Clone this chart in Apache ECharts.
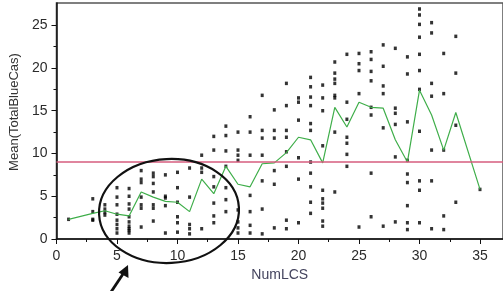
<!DOCTYPE html>
<html>
<head>
<meta charset="utf-8">
<script src="https://cdn.jsdelivr.net/npm/echarts@6/dist/echarts.min.js"></script>
<style>
  html, body { margin: 0; padding: 0; background: #fff; }
  #chart { width: 503px; height: 291px; }
</style>
</head>
<body>
<div id="chart"></div>
<script>
// NumLCS values that have observations
const numLCS = [1, 3, 4, 5, 6, 7, 8, 9, 10, 11, 12, 13, 14, 15, 16, 17, 18,
  19, 20, 21, 22, 23, 24, 25, 26, 27, 28, 29, 30, 31, 32, 33, 35]

// TotalBlueCas observations, one list per NumLCS value above
const blueCas = [
  [2.3],
  [4.7, 3.2, 2.3, 2.2],
  [4.0, 3.5, 3.1, 2.8],
  [6.0, 4.9, 4.0, 2.9, 2.2, 1.7, 1.2, 0.7],
  [5.9, 5.0, 4.1, 3.5, 2.6, 2.0, 1.5, 1.2, 1.0, 0.7],
  [8.0, 7.0, 6.6, 4.9, 4.0, 3.6, 1.4],
  [7.7, 7.3, 6.5, 5.5, 4.0, 3.6, 2.1],
  [7.5, 5.0, 4.8, 3.9, 0.7],
  [7.8, 6.0, 4.3, 2.6, 1.9, 0.8],
  [8.3, 4.9, 1.7, 1.2, 0.6],
  [9.8, 8.3, 7.8, 1.2],
  [12.0, 10.4, 7.3, 6.1, 4.2, 2.7, 1.9],
  [13.2, 12.1, 10.3, 8.5, 6.0, 4.6, 3.2],
  [12.5, 10.4, 9.8, 9.2, 3.4, 2.0, 1.3, 0.7],
  [14.3, 12.5, 9.8, 5.1, 3.2, 1.6, 0.7],
  [16.8, 12.7, 11.8, 9.8, 6.8, 3.5, 0.6],
  [15.1, 12.7, 11.8, 8.0, 6.4, 1.3],
  [18.2, 15.6, 12.7, 11.9, 10.2, 8.5, 2.2, 1.2],
  [16.5, 16.0, 13.9, 9.5, 7.0, 1.9],
  [18.9, 17.8, 16.6, 15.6, 13.5, 12.7, 9.0, 7.7, 6.1, 4.3, 3.0],
  [18.0, 16.5, 15.0, 10.9, 5.7, 4.7, 4.2, 3.6, 2.1, 1.5],
  [20.7, 19.4, 18.7, 18.2, 16.8, 16.5, 12.5, 5.5],
  [21.6, 16.0, 14.0, 11.9, 11.2, 9.9, 8.5],
  [21.7, 20.5, 19.7, 17.0, 1.4],
  [21.9, 21.0, 19.6, 18.5, 15.4, 14.5, 7.7, 2.6],
  [22.7, 20.2, 17.9, 17.0, 13.0, 1.5],
  [22.3, 15.3, 14.7, 13.4, 9.6, 2.0],
  [21.3, 19.3, 13.7, 9.2, 7.6, 6.6, 3.9, 1.9, 1.1],
  [26.9, 26.2, 25.1, 23.6, 21.6, 19.7, 17.5, 12.6, 6.8, 5.7, 1.9],
  [25.3, 24.1, 18.2, 16.7, 10.4, 6.8, 1.2],
  [21.7, 17.0, 10.4, 2.7, 1.1],
  [23.7, 19.4, 13.3, 4.3],
  [5.8]
]

// mean line (green)
const meanY = [2.3, 3.0, 3.3, 2.9, 2.7, 5.5, 4.9, 4.4, 4.3, 3.2, 7.0, 5.3, 8.5,
  6.4, 6.1, 8.8, 8.9, 10.1, 11.9, 11.6, 8.9, 15.4, 13.1, 16.0, 15.4, 15.3, 11.6,
  9.0, 17.4, 14.5, 10.4, 14.8, 5.8]

const refLevel = 9
const xTicks = [0, 5, 10, 15, 20, 25, 30, 35]
const xMinor = [2.5, 7.5, 12.5, 17.5, 22.5, 27.5, 32.5]
const yTicks = [0, 5, 10, 15, 20, 25]
const yMinor = [2.5, 7.5, 12.5, 17.5, 22.5]

const points = []
numLCS.forEach(function(x, i) {
  blueCas[i].forEach(function(v) { points.push([x, v]) })
})
const meanPts = numLCS.map(function(x, i) { return [x, meanY[i]] })

const chart = echarts.init(document.getElementById('chart'), null, { renderer: 'canvas' })

const labelFont = { fontFamily: 'Liberation Sans, Arial, sans-serif', fontSize: 14, color: '#2b2b2b' }

chart.setOption({
  animation: false,
  backgroundColor: '#fff',
  grid: {
    left: 56,
    right: 0,
    top: 3,
    bottom: 52,
    show: true,
    borderColor: '#555',
    borderWidth: 1.5
  },
  xAxis: [{
    type: 'value',
    min: 0,
    max: 36.9,
    name: 'NumLCS',
    nameLocation: 'middle',
    nameGap: 29,
    nameTextStyle: { fontFamily: 'Liberation Sans, Arial, sans-serif', fontSize: 14, color: '#44445e' },
    axisLine: { lineStyle: { color: '#111', width: 1.5 } },
    axisTick: { customValues: xTicks, length: 5, lineStyle: { color: '#111' } },
    axisLabel: Object.assign({ customValues: xTicks, margin: 10 }, labelFont),
    splitLine: { show: false }
  }, {
    type: 'value',
    min: 0,
    max: 36.9,
    position: 'bottom',
    axisLine: { show: false },
    axisTick: { customValues: xMinor, length: 3, lineStyle: { color: '#111' } },
    axisLabel: { show: false },
    splitLine: { show: false }
  }],
  yAxis: [{
    type: 'value',
    min: 0,
    max: 27.6,
    name: 'Mean(TotalBlueCas)',
    nameLocation: 'middle',
    nameGap: 34,
    nameTextStyle: {
      fontFamily: 'Liberation Sans, Arial, sans-serif',
      fontSize: 13,
      color: '#333',
      padding: [0, 0, 0, 18]
    },
    axisLine: { lineStyle: { color: '#111', width: 1.5 } },
    axisTick: { customValues: yTicks, length: 5, lineStyle: { color: '#111' } },
    axisLabel: Object.assign({ customValues: yTicks, margin: 9 }, labelFont),
    splitLine: { show: false }
  }, {
    type: 'value',
    min: 0,
    max: 27.6,
    position: 'left',
    axisLine: { show: false },
    axisTick: { customValues: yMinor, length: 3, lineStyle: { color: '#111' } },
    axisLabel: { show: false },
    splitLine: { show: false }
  }],
  series: [{
    name: 'obs',
    type: 'scatter',
    symbol: 'rect',
    symbolSize: [3, 3.5],
    itemStyle: { color: '#000' },
    data: points,
    z: 3
  }, {
    name: 'mean',
    type: 'line',
    symbol: 'none',
    lineStyle: { color: '#3fae4a', width: 1.2 },
    data: meanPts,
    z: 4,
    markLine: {
      silent: true,
      symbol: 'none',
      label: { show: false },
      lineStyle: { color: '#d65c7e', width: 1.5, type: 'solid' },
      data: [{ yAxis: refLevel }]
    }
  }],
  graphic: [{
    type: 'ellipse',
    shape: { cx: 169, cy: 211, rx: 70, ry: 52 },
    originX: 169,
    originY: 211,
    rotation: 0.05,
    style: { fill: 'none', stroke: '#111', lineWidth: 2.2 },
    z: 10
  }, {
    type: 'line',
    shape: { x1: 111, y1: 292, x2: 123, y2: 274 },
    style: { stroke: '#111', lineWidth: 2.8 },
    z: 10
  }, {
    type: 'polygon',
    shape: { points: [[128, 265], [118.5, 272.5], [128.5, 278]] },
    style: { fill: '#111' },
    z: 10
  }]
})
</script>
</body>
</html>
